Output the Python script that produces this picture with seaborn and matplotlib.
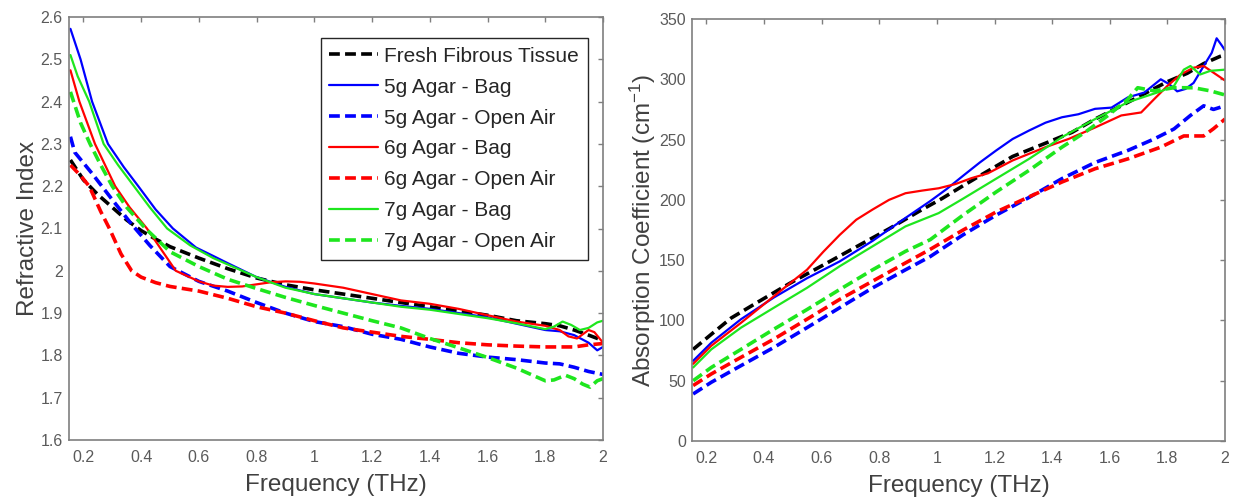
import numpy as np
import matplotlib
matplotlib.use("Agg")
import matplotlib.pyplot as plt
import seaborn as sns

# ---------------- data: refractive index (left) ----------------
ri_fresh_f = [0.155, 0.2, 0.25, 0.3, 0.35, 0.4, 0.45, 0.5, 0.6, 0.7, 0.8, 0.9, 1.0, 1.1, 1.2, 1.3, 1.4, 1.5, 1.6, 1.7, 1.8, 1.85, 1.9, 1.95, 2.0]
ri_fresh_v = [2.262, 2.215, 2.18, 2.15, 2.12, 2.095, 2.075, 2.057, 2.03, 2.005, 1.983, 1.967, 1.955, 1.945, 1.935, 1.925, 1.915, 1.905, 1.895, 1.882, 1.875, 1.87, 1.86, 1.848, 1.835]

ri_5bag_f = [0.155, 0.19, 0.23, 0.285, 0.34, 0.39, 0.45, 0.51, 0.59, 0.65, 0.7, 0.8, 0.9, 1.0, 1.1, 1.2, 1.3, 1.4, 1.5, 1.6, 1.7, 1.8, 1.85, 1.9, 1.95, 1.98, 2.0]
ri_5bag_v = [2.572, 2.5, 2.4, 2.3, 2.245, 2.2, 2.145, 2.1, 2.055, 2.035, 2.018, 1.985, 1.962, 1.945, 1.935, 1.925, 1.917, 1.91, 1.9, 1.89, 1.875, 1.86, 1.857, 1.848, 1.83, 1.812, 1.82]

ri_5air_f = [0.155, 0.17, 0.2, 0.23, 0.3, 0.367, 0.43, 0.5, 0.6, 0.7, 0.8, 0.9, 1.0, 1.1, 1.2, 1.3, 1.4, 1.5, 1.6, 1.7, 1.8, 1.85, 1.9, 1.95, 2.0]
ri_5air_v = [2.317, 2.28, 2.255, 2.23, 2.168, 2.11, 2.06, 2.01, 1.975, 1.952, 1.925, 1.9, 1.88, 1.868, 1.85, 1.838, 1.82, 1.805, 1.796, 1.79, 1.782, 1.78, 1.772, 1.762, 1.755]

ri_6bag_f = [0.155, 0.186, 0.24, 0.31, 0.36, 0.42, 0.47, 0.52, 0.6, 0.65, 0.7, 0.75, 0.8, 0.85, 0.9, 0.95, 1.0, 1.1, 1.2, 1.3, 1.4, 1.5, 1.6, 1.7, 1.8, 1.85, 1.88, 1.91, 1.95, 1.97, 2.0]
ri_6bag_v = [2.474, 2.4, 2.3, 2.2, 2.15, 2.1, 2.05, 2.0, 1.975, 1.965, 1.962, 1.963, 1.968, 1.973, 1.975, 1.974, 1.97, 1.96, 1.945, 1.93, 1.922, 1.91, 1.895, 1.88, 1.87, 1.86, 1.845, 1.84, 1.86, 1.855, 1.83]

ri_6air_f = [0.155, 0.19, 0.22, 0.26, 0.29, 0.33, 0.367, 0.4, 0.45, 0.5, 0.6, 0.7, 0.8, 0.9, 1.0, 1.1, 1.2, 1.3, 1.4, 1.5, 1.6, 1.7, 1.8, 1.9, 1.95, 2.0]
ri_6air_v = [2.25, 2.225, 2.2, 2.14, 2.1, 2.04, 2.0, 1.985, 1.972, 1.963, 1.952, 1.935, 1.915, 1.9, 1.882, 1.865, 1.855, 1.845, 1.838, 1.83, 1.825, 1.822, 1.82, 1.82, 1.825, 1.828]

ri_7bag_f = [0.155, 0.18, 0.22, 0.27, 0.32, 0.375, 0.43, 0.49, 0.57, 0.65, 0.7, 0.8, 0.9, 1.0, 1.1, 1.2, 1.3, 1.4, 1.5, 1.6, 1.7, 1.8, 1.83, 1.86, 1.89, 1.92, 1.95, 1.98, 2.0]
ri_7bag_v = [2.51, 2.46, 2.4, 2.3, 2.25, 2.2, 2.15, 2.1, 2.06, 2.03, 2.015, 1.985, 1.96, 1.945, 1.935, 1.925, 1.915, 1.908, 1.898, 1.888, 1.876, 1.862, 1.868, 1.88, 1.872, 1.86, 1.865, 1.878, 1.882]

ri_7air_f = [0.155, 0.166, 0.19, 0.223, 0.26, 0.3, 0.35, 0.415, 0.5, 0.6, 0.7, 0.8, 0.9, 1.0, 1.1, 1.2, 1.3, 1.4, 1.5, 1.6, 1.7, 1.75, 1.8, 1.83, 1.87, 1.9, 1.93, 1.955, 1.98, 2.0]
ri_7air_v = [2.423, 2.4, 2.35, 2.3, 2.25, 2.2, 2.15, 2.1, 2.045, 2.01, 1.98, 1.958, 1.937, 1.918, 1.9, 1.882, 1.865, 1.84, 1.818, 1.795, 1.77, 1.755, 1.74, 1.742, 1.753, 1.745, 1.732, 1.725, 1.74, 1.745]

# ---------------- data: absorption coefficient (right) ----------------
ac_fresh_f = [0.154, 0.217, 0.286, 0.377, 0.491, 0.606, 0.72, 0.834, 0.949, 1.017, 1.086, 1.149, 1.263, 1.377, 1.469, 1.549, 1.64, 1.72, 1.8, 1.869, 1.926, 1.983, 2.0]
ac_fresh_v = [76, 88.5, 102, 115, 131, 146, 161, 176, 192, 201, 211, 220, 236, 247, 256, 267, 278, 288, 298, 305, 313, 319, 320]

ac_5bag_f = [0.154, 0.217, 0.32, 0.434, 0.549, 0.663, 0.777, 0.891, 0.977, 1.034, 1.091, 1.149, 1.206, 1.263, 1.32, 1.377, 1.434, 1.491, 1.549, 1.606, 1.663, 1.72, 1.777, 1.806, 1.834, 1.863, 1.891, 1.926, 1.954, 1.971, 1.989, 2.0]
ac_5bag_v = [66.5, 81.5, 101, 119, 135, 149, 166, 185, 199, 209, 220, 231, 241, 250.5, 257.5, 264, 268.5, 271, 275.5, 276.5, 285, 289, 300, 296, 290, 292, 297, 311, 322, 334, 328, 324]

ac_5air_f = [0.154, 0.217, 0.32, 0.434, 0.549, 0.663, 0.777, 0.891, 0.977, 1.091, 1.206, 1.32, 1.434, 1.549, 1.663, 1.754, 1.823, 1.88, 1.926, 1.96, 2.0]
ac_5air_v = [39, 48.7, 62.5, 77.6, 94, 110.6, 127, 142, 153, 171, 187.4, 202, 217.6, 231, 241, 250.5, 258.8, 270, 278, 275, 278]

ac_6bag_f = [0.154, 0.217, 0.32, 0.434, 0.491, 0.549, 0.606, 0.663, 0.72, 0.777, 0.834, 0.891, 0.949, 1.006, 1.063, 1.12, 1.177, 1.263, 1.377, 1.457, 1.549, 1.64, 1.709, 1.754, 1.8, 1.846, 1.891, 1.926, 1.96, 2.0]
ac_6bag_v = [64, 79, 98, 120, 131, 142, 157, 171, 183.5, 192, 200, 205.5, 207.7, 209.6, 213, 218, 222, 232.7, 243.7, 250.5, 260, 270, 272.5, 283.5, 294.5, 304, 309.6, 311, 305.5, 299]

ac_6air_f = [0.154, 0.217, 0.32, 0.434, 0.549, 0.663, 0.777, 0.891, 0.977, 1.091, 1.206, 1.32, 1.434, 1.549, 1.663, 1.777, 1.857, 1.926, 1.96, 2.0]
ac_6air_v = [46, 55.6, 69.4, 84.5, 101, 117.5, 132.6, 147.7, 159, 175, 190, 202.5, 214.8, 225.8, 234, 243.7, 253, 253, 259, 267]

ac_7bag_f = [0.154, 0.217, 0.32, 0.434, 0.549, 0.663, 0.777, 0.891, 1.006, 1.091, 1.206, 1.32, 1.434, 1.549, 1.663, 1.777, 1.823, 1.857, 1.88, 1.914, 1.949, 2.0]
ac_7bag_v = [61, 76, 94, 110.5, 127, 145, 161.5, 178, 189, 201, 217.6, 234, 252, 267, 281, 290, 294.5, 308, 311, 304, 307, 308]

ac_7air_f = [0.154, 0.217, 0.32, 0.434, 0.549, 0.663, 0.777, 0.891, 0.977, 1.091, 1.206, 1.32, 1.434, 1.514, 1.594, 1.663, 1.697, 1.754, 1.823, 1.891, 1.949, 2.0]
ac_7air_v = [50, 61, 76, 92.7, 109, 125.7, 142, 157.3, 167, 187.4, 206.6, 224.5, 243.7, 256, 270, 283.5, 293, 290.4, 293, 293, 290.4, 287]

labels = ["Fresh Fibrous Tissue", "5g Agar - Bag", "5g Agar - Open Air",
          "6g Agar - Bag", "6g Agar - Open Air", "7g Agar - Bag", "7g Agar - Open Air"]
colors = ["#000000", "#0000ff", "#0000ff", "#ff0000", "#ff0000", "#1ee61e", "#1ee61e"]
dashed = [True, False, True, False, True, False, True]

ri_series = [(ri_fresh_f, ri_fresh_v), (ri_5bag_f, ri_5bag_v), (ri_5air_f, ri_5air_v),
             (ri_6bag_f, ri_6bag_v), (ri_6air_f, ri_6air_v), (ri_7bag_f, ri_7bag_v), (ri_7air_f, ri_7air_v)]
ac_series = [(ac_fresh_f, ac_fresh_v), (ac_5bag_f, ac_5bag_v), (ac_5air_f, ac_5air_v),
             (ac_6bag_f, ac_6bag_v), (ac_6air_f, ac_6air_v), (ac_7bag_f, ac_7bag_v), (ac_7air_f, ac_7air_v)]

x_ticks = [0.2, 0.4, 0.6, 0.8, 1.0, 1.2, 1.4, 1.6, 1.8, 2.0]
x_ticklabels = ["0.2", "0.4", "0.6", "0.8", "1", "1.2", "1.4", "1.6", "1.8", "2"]
ri_ticks = [1.6, 1.7, 1.8, 1.9, 2.0, 2.1, 2.2, 2.3, 2.4, 2.5, 2.6]
ri_ticklabels = ["1.6", "1.7", "1.8", "1.9", "2", "2.1", "2.2", "2.3", "2.4", "2.5", "2.6"]
ac_ticks = [0, 50, 100, 150, 200, 250, 300, 350]

# ---------------- style ----------------
sns.set_style("white")
plt.rcParams["font.family"] = ["Liberation Sans", "DejaVu Sans"]
plt.rcParams["mathtext.fontset"] = "custom"
plt.rcParams["mathtext.rm"] = "Liberation Sans"
plt.rcParams["mathtext.default"] = "regular"

SPINE = "#7f7f7f"
TICKC = "#5a5a5a"
LABELC = "#404040"

fig = plt.figure(figsize=(12.35, 5.01), dpi=100)
ax1 = fig.add_axes([69 / 1235, 1 - 440 / 501, 534 / 1235, 423 / 501])
ax2 = fig.add_axes([692 / 1235, 1 - 441 / 501, 533 / 1235, 422 / 501])

for ax, series, with_label in [(ax1, ri_series, True), (ax2, ac_series, False)]:
    for (f, v), lab, c, d in zip(series, labels, colors, dashed):
        kw = dict(color=c, linewidth=2.6 if d else 1.6)
        if d:
            kw["linestyle"] = (0, (3.0, 1.45))
        sns.lineplot(x=f, y=v, ax=ax, sort=False, estimator=None,
                     label=lab if with_label else None, **kw)
    ax.set_xlim(0.15, 2.0)
    ax.set_xticks(x_ticks)
    ax.set_xticklabels(x_ticklabels)
    ax.tick_params(direction="in", length=3.5, width=1.0, colors=SPINE,
                   labelcolor=TICKC, labelsize=11.5, top=True, right=True,
                   labeltop=False, labelright=False)
    ax.tick_params(axis="x", pad=7)
    ax.tick_params(axis="y", pad=4.5)
    for s in ax.spines.values():
        s.set_color(SPINE)
        s.set_linewidth(1.2)
    ax.set_xlabel("Frequency (THz)", fontsize=17.5, color=LABELC, labelpad=7)

ax1.set_ylim(1.6, 2.6)
ax1.set_yticks(ri_ticks)
ax1.set_yticklabels(ri_ticklabels)
ax1.set_ylabel("Refractive Index", fontsize=17.5, color=LABELC, labelpad=1)

ax2.set_ylim(0, 350)
ax2.set_yticks(ac_ticks)
ax2.set_ylabel("Absorption Coefficient (cm$^{-1}$)", fontsize=17.5, color=LABELC, labelpad=0.5)
if ax2.get_legend() is not None:
    ax2.get_legend().remove()

leg = ax1.legend(loc="upper right", bbox_to_anchor=(1 - 15 / 534, 1 - 21 / 423),
                 borderaxespad=0, fontsize=15, frameon=True, fancybox=False,
                 handlelength=2.35, handletextpad=0.3, labelspacing=0.57,
                 borderpad=0.42, framealpha=1)
leg.get_frame().set_edgecolor("#262626")
leg.get_frame().set_linewidth(1.0)
for t in leg.get_texts():
    t.set_color("#262626")

fig.savefig("out.png", dpi=100, facecolor="white")
